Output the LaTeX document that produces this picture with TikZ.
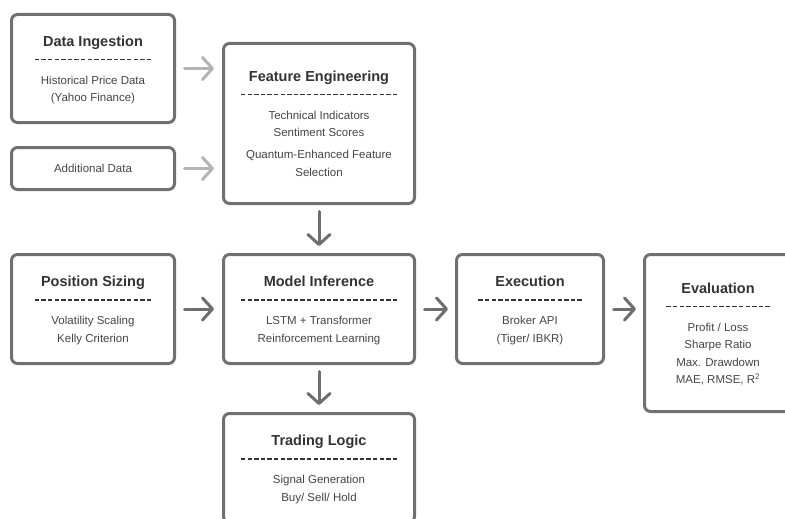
\documentclass[tikz,border=0pt]{standalone}
\usepackage{fontspec}
\setmainfont{Liberation Sans}
\usetikzlibrary{arrows.meta}
\definecolor{box-gray}{HTML}{707070}
\definecolor{arrow-gray}{HTML}{6E6E6E}
\definecolor{feed-gray}{HTML}{B4B4B4}
\definecolor{title-text}{HTML}{333333}
\definecolor{body-text}{HTML}{444444}

% dashed separator under each title, n dashes
\newcommand{\sepline}[1]{\makebox[#1\dimexpr 6.6pt\relax]{\color{title-text}\xleaders\hbox to 6.6pt{\hss\rule[3.4pt]{4.4pt}{1.6pt}\hss}\hfill}}
\newcommand{\stagetitle}[1]{{\bfseries\fontsize{14.5}{17.5}\selectfont\color{title-text}#1}}

\begin{document}
\begin{tikzpicture}[x=1pt, y=-1pt,
    stage/.style={draw=box-gray, line width=3pt, rounded corners=6pt, align=center,
      font=\fontsize{11.5}{17.5}\selectfont, text=body-text, inner sep=0pt, text depth=-4pt},
    flow/.style={-{Straight Barb[length=10pt, width=22pt, line cap=round, line join=round]},
      line width=3pt, draw=arrow-gray, line cap=round},
    feed/.style={flow, draw=feed-gray}]
  \useasboundingbox (0,0) rectangle (785,519);

  \node[stage, minimum width=163, minimum height=108] (ingest) at (93, 68.5)
    {\stagetitle{Data Ingestion}\\ \sepline{18}\\[3pt] Historical Price Data\\ (Yahoo Finance)};
  \node[stage, minimum width=163, minimum height=42] (extra) at (93, 168.5) {Additional Data};
  \node[stage, minimum width=191, minimum height=160] (features) at (319, 123.5)
    {\stagetitle{Feature Engineering}\\ \sepline{24}\\[3pt] Technical Indicators\\ Sentiment Scores\\[4.5pt]
     Quantum-Enhanced Feature\\ Selection};

  \node[stage, minimum width=163, minimum height=109] (sizing) at (93, 309)
    {\stagetitle{Position Sizing}\\ \sepline{18}\\[3pt] Volatility Scaling\\ Kelly Criterion};
  \node[stage, minimum width=191, minimum height=109] (model) at (319, 309)
    {\stagetitle{Model Inference}\\ \sepline{24}\\[3pt] LSTM + Transformer\\ Reinforcement Learning};
  \node[stage, minimum width=147, minimum height=109] (exec) at (530, 309)
    {\stagetitle{Execution}\\ \sepline{16}\\[3pt] Broker API\\ (Tiger/ IBKR)};
  \node[stage, minimum width=147, minimum height=157] (eval) at (718, 333)
    {\stagetitle{Evaluation}\\ \sepline{16}\\[3pt] Profit / Loss\\ Sharpe Ratio\\ Max. Drawdown\\ MAE, RMSE, R\textsuperscript{2}};
  \node[stage, minimum width=191, minimum height=109] (logic) at (319, 468)
    {\stagetitle{Trading Logic}\\ \sepline{24}\\[3pt] Signal Generation\\ Buy/ Sell/ Hold};

  \draw[feed, shorten <=8.5pt, shorten >=8pt] (ingest.east) -- (ingest.east -| features.west);
  \draw[feed, shorten <=8.5pt, shorten >=8pt] (extra.east) -- (extra.east -| features.west);
  \draw[flow, shorten <=6.5pt, shorten >=7pt] (features.south) -- (model.north);
  \draw[flow, shorten <=8.5pt, shorten >=8pt] (sizing.east) -- (model.west);
  \draw[flow, shorten <=8.5pt, shorten >=7pt] (model.east) -- (exec.west);
  \draw[flow, shorten <=8.5pt, shorten >=7pt] (exec.east) -- (eval.west |- exec.east);
  \draw[flow, shorten <=6.5pt, shorten >=7pt] (model.south) -- (logic.north);
\end{tikzpicture}
\end{document}
